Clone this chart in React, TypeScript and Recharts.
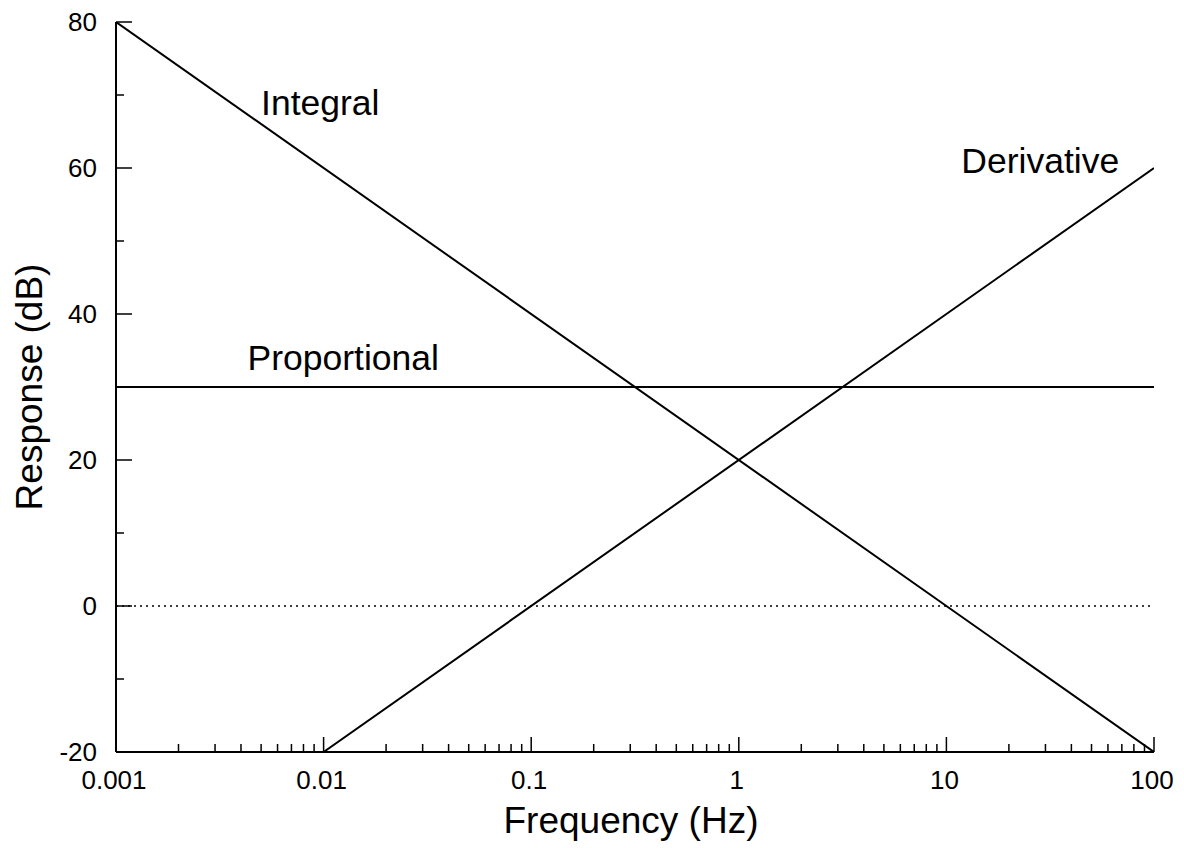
import { LineChart, Line, XAxis, YAxis, ReferenceLine, ReferenceDot } from "recharts";

const FONT = "'Liberation Sans', Arial, Helvetica, sans-serif";

// response curves (dB vs Hz), straight on log axis so two points each
const integral = [
  { f: 0.001, db: 80 },
  { f: 100, db: -20 },
];
const derivative = [
  { f: 0.01, db: -20 },
  { f: 100, db: 60 },
];
const proportional = [
  { f: 0.001, db: 30 },
  { f: 100, db: 30 },
];

const decades = [0.001, 0.01, 0.1, 1, 10, 100];
const minorSteps = [2, 3, 4, 5, 6, 7, 8, 9];
const yTicks = [-20, -10, 0, 10, 20, 30, 40, 50, 60, 70, 80];
const yLabelled = [-20, 0, 20, 40, 60, 80];

const annotations = [
  { text: "Integral", f: 0.005, db: 67.3 },
  { text: "Proportional", f: 0.0043, db: 32.3 },
  { text: "Derivative", f: 11.8, db: 59.3 },
];

const xTicks = decades.flatMap((d, i) =>
  i < decades.length - 1 ? [d, ...minorSteps.map((m) => d * m)] : [d]
);

const XTick = (props: any) => {
  const { x, y, payload } = props;
  const major = decades.includes(payload.value);
  return (
    <g>
      <line x1={x} x2={x} y1={y} y2={y - (major ? 15 : 8)} stroke="#000" strokeWidth={1.5} />
      {major && (
        <text x={x - 2} y={y + 37} textAnchor="middle" fontSize={26} fontFamily={FONT} fill="#000">
          {String(payload.value)}
        </text>
      )}
    </g>
  );
};

const YTick = (props: any) => {
  const { x, y, payload } = props;
  const major = yLabelled.includes(payload.value);
  return (
    <g>
      <line x1={x} x2={x + (major ? 16 : 8)} y1={y} y2={y} stroke="#000" strokeWidth={1.5} />
      {major && (
        <text x={x - 19} y={y + 9} textAnchor="end" fontSize={26} fontFamily={FONT} fill="#000">
          {String(payload.value)}
        </text>
      )}
    </g>
  );
};

const XTitle = (props: any) => {
  const vb = props.viewBox;
  return (
    <text x={vb.x + vb.width / 2 - 4} y={vb.y + 81} textAnchor="middle" fontSize={37} fontFamily={FONT} fill="#000">
      Frequency (Hz)
    </text>
  );
};

const YTitle = (props: any) => {
  const vb = props.viewBox;
  const cy = vb.y + vb.height / 2;
  return (
    <text
      x={42}
      y={cy}
      transform={`rotate(-90, 42, ${cy})`}
      textAnchor="middle"
      fontSize={37}
      fontFamily={FONT}
      fill="#000"
    >
      Response (dB)
    </text>
  );
};

const lineProps = {
  dataKey: "db",
  stroke: "#000",
  strokeWidth: 2,
  dot: false,
  activeDot: false,
  isAnimationActive: false,
} as const;

export default function App() {
  return (
    <div style={{ position: "absolute", left: 0, top: 0, background: "#fff" }}>
      <LineChart width={1184} height={848} margin={{ top: 22, right: 30, bottom: 0, left: 0 }}>
        <XAxis
          dataKey="f"
          type="number"
          scale="log"
          domain={[0.001, 100]}
          allowDataOverflow
          ticks={xTicks}
          interval={0}
          tickSize={0}
          tickMargin={0}
          tickLine={false}
          axisLine={{ stroke: "#000", strokeWidth: 2 }}
          height={96}
          tick={(p: any) => <XTick {...p} />}
          label={(p: any) => <XTitle {...p} />}
        />
        <YAxis
          type="number"
          domain={[-20, 80]}
          allowDataOverflow
          ticks={yTicks}
          interval={0}
          tickSize={0}
          tickMargin={0}
          tickLine={false}
          axisLine={{ stroke: "#000", strokeWidth: 2 }}
          width={116}
          tick={(p: any) => <YTick {...p} />}
          label={(p: any) => <YTitle {...p} />}
        />
        <ReferenceLine y={0} stroke="#000" strokeWidth={1.5} strokeDasharray="2 4" />
        <Line data={integral} {...lineProps} name="Integral" />
        <Line data={derivative} {...lineProps} name="Derivative" />
        <Line data={proportional} {...lineProps} name="Proportional" />
        {annotations.map((a) => (
          <ReferenceDot
            key={a.text}
            x={a.f}
            y={a.db}
            r={0}
            fill="none"
            stroke="none"
            label={(p: any) => (
              <text x={p.viewBox.x} y={p.viewBox.y} fontSize={35.5} fontFamily={FONT} fill="#000">
                {a.text}
              </text>
            )}
          />
        ))}
      </LineChart>
    </div>
  );
}
